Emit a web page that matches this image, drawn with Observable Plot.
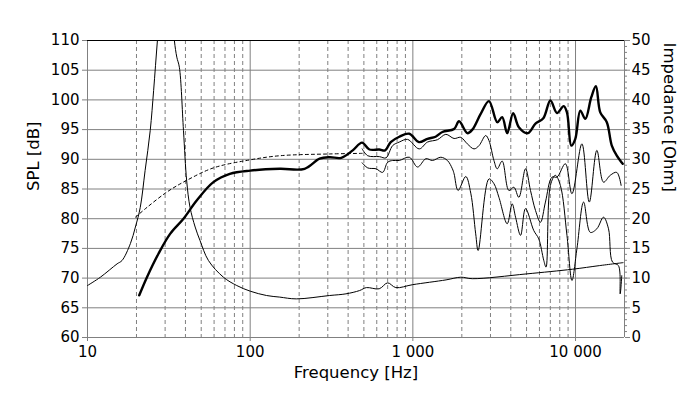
<!DOCTYPE html>
<html><head><meta charset="utf-8">
<script src="https://cdn.jsdelivr.net/npm/d3@7"></script>
<script src="https://cdn.jsdelivr.net/npm/@observablehq/plot@0.6"></script>
<style>html,body{margin:0;padding:0;background:#fff}svg{display:block}</style>
</head><body><div id="chart"></div>
<script>
// Axis ticks
const freqMajor = [10, 100, 1000, 10000];
const freqMinor = [20,30,40,50,60,70,80,90,200,300,400,500,600,700,800,900,2000,3000,4000,5000,6000,7000,8000,9000];
const splTicks = [60, 65, 70, 75, 80, 85, 90, 95, 100, 105, 110];
const ohmTicks = [0, 5, 10, 15, 20, 25, 30, 35, 40, 45, 50];

// On-axis SPL (thick)
const mainFreq = [20.8,23.2,27.3,32.2,38.9,46.9,59.4,75,100,152,216,267,308,363,427,487,541,621,675,731,826,950,1090,1230,1380,1520,1793,1923,2162,2321,2612,2937,3302,3540,3802,4137,4483,5088,5673,6340,7006,7692,8453,8857,9420,9970,10700,11480,12500,13340,14190,15570,16710,17930,18810,19500];
const mainSpl = [67.1,70.15,74.1,77.45,80.0,83.06,86.15,87.55,88.1,88.4,88.4,90.1,90.35,90.25,91.5,92.8,91.65,91.65,91.5,92.9,93.8,94.3,92.9,93.45,93.8,94.6,95.1,96.4,94.4,95.0,97.65,99.8,96.25,97.1,94.4,97.75,95.4,94.4,96.0,96.9,99.9,97.8,98.95,97.9,92.3,93.45,98.2,96.8,100.45,102.3,97.9,96.25,92.3,90.6,89.8,89.25];

// Low-frequency dashed curve
const dashFreq = [19.7,23.2,30.8,40.7,59.4,99.6,152,308,488];
const dashSpl = [80.25,81.9,84.5,86.45,88.55,89.9,90.6,90.9,91.0];

// Off-axis SPL 1 (thin, upper)
const offAFreq = [488,528,623,684,751,825,928,1094,1230,1417,1595,1793,1970,2162,2377,2551,2804,2937,3151,3302,3540,3893,4178,4483,4927,5287,5673,6089,6532,7170,7692,8659,9506,10944,12150,13520,14860,16330,17930,19070];
const offASpl = [91.75,90.6,90.45,90.25,92.3,92.9,93.35,91.75,92.9,93.3,94.2,93.5,93.7,92.6,91.75,92.3,94.0,93.15,89.8,88.4,89.7,84.75,85.3,83.6,88.4,84.75,81.4,79.4,82.8,87.0,87.0,89.25,84.2,92.6,82.8,91.5,86.15,87.3,87.8,85.6];

// Off-axis SPL 2 (thin, lower)
const offBFreq = [488,528,594,652,700,751,825,951,1069,1203,1320,1486,1631,1750,1793,1897,2115,2270,2434,2520,2937,3151,3381,3802,4077,4280,4592,4927,5539,5943,6377,6587,7006,7516,8070,8857,9506,10200,11210,12320,13520,14860,15950,16870,18360,18810,19240];
const offBSpl = [89.4,88.55,88.4,87.8,89.5,89.8,89.8,90.35,88.7,90.1,89.8,90.35,89.8,88.4,87.55,84.75,87.1,84.3,77.45,74.65,86.7,85.9,83.6,79.15,82.5,80.25,77.2,81.7,78.0,76.6,73.0,71.85,85.6,87.3,85.6,77.2,69.6,74.95,82.8,77.7,78.3,80.25,78.3,72.7,72.1,67.35,70.4];

// Impedance (right axis, Ohm)
const impFreq = [10,12.0,15.2,16.3,18.35,19.7,21.1,22.6,24.3,25.5,26.9,28.5,30.5,32.5,34.2,35.4,36.7,38.9,40.7,42.7,45.9,49.2,55.4,68.5,82.7,100,126,152,192,308,388,470,518,621,700,786,1000,1600,1970,2320,4970,9600,14000,19600];
const impOhm = [8.75,10.15,12.4,12.96,15.8,18.6,21.9,28.1,34.85,41.6,50,58,62,58,50,47.2,45.5,34.85,26.4,21.9,18.6,16.3,12.96,10.15,8.75,7.8,7.07,6.8,6.5,7.07,7.35,7.9,8.4,8.2,9.2,8.4,8.9,9.7,10.15,9.9,10.7,11.5,12.1,12.6];

const OHM_OFFSET = 60; // 0 Ohm aligned with 60 dB, same span (50 units)
const toRows = (fs, vs, off = 0) => fs.map((f, i) => ({f, v: vs[i] + off}));
const mainRows = toRows(mainFreq, mainSpl);
const dashRows = toRows(dashFreq, dashSpl);
const offARows = toRows(offAFreq, offASpl);
const offBRows = toRows(offBFreq, offBSpl);
const impRows = toRows(impFreq, impOhm, OHM_OFFSET);

const fmt = d => d3.format(",")(d).replace(/,/g, " ");
const grid = "#808080";
const curve = "catmull-rom";

const chart = Plot.plot({
  width: 700, height: 399,
  marginLeft: 87, marginRight: 76, marginTop: 40, marginBottom: 62,
  style: {fontFamily: "'DejaVu Sans', sans-serif", fontSize: "15px", background: "white", color: "black"},
  x: {type: "log", domain: [10, 20000]},
  y: {domain: [60, 110]},
  marks: [
    Plot.ruleX(freqMinor, {stroke: grid, strokeDasharray: "4,3"}),
    Plot.ruleX(freqMajor.slice(1), {stroke: grid}),
    Plot.ruleY(splTicks.slice(1, -1), {stroke: grid}),
    Plot.ruleX([10, 20000], {stroke: grid}),
    Plot.ruleY([60], {stroke: grid}),
    Plot.ruleY([110], {stroke: "black"}),
    Plot.axisX({ticks: freqMajor, tickFormat: fmt, tickSize: 4, tickPadding: 5, stroke: grid, label: null}),
    Plot.axisY({ticks: splTicks, tickSize: 5, tickPadding: 3, stroke: grid, label: null}),
    Plot.axisY({anchor: "right", ticks: d3.range(60, 111, 1), tickSize: 2, tickFormat: () => "", stroke: grid, label: null}),
    Plot.axisY({anchor: "right", ticks: ohmTicks.map(o => o + OHM_OFFSET), tickFormat: d => d - OHM_OFFSET, tickSize: 5, tickPadding: 2, stroke: grid, label: null}),
    Plot.line(impRows, {x: "f", y: "v", stroke: "black", strokeWidth: 1, curve, clip: true}),
    Plot.line(dashRows, {x: "f", y: "v", stroke: "black", strokeWidth: 1, strokeDasharray: "3,3", curve, clip: true}),
    Plot.line(offBRows, {x: "f", y: "v", stroke: "black", strokeWidth: 1, curve, clip: true}),
    Plot.line(offARows, {x: "f", y: "v", stroke: "black", strokeWidth: 1, curve, clip: true}),
    Plot.line(mainRows, {x: "f", y: "v", stroke: "black", strokeWidth: 2.4, curve, clip: true}),
    Plot.text(["Frequency [Hz]"], {frameAnchor: "bottom", dy: 35.5, fontSize: 16.5, lineAnchor: "middle", fill: "black"}),
    Plot.text(["SPL [dB]"], {frameAnchor: "left", dx: -54, dy: 2, rotate: -90, fontSize: 16.5, lineAnchor: "middle", fill: "black"}),
    Plot.text(["Impedance [Ohm]"], {frameAnchor: "right", dx: 44.5, dy: 3, rotate: 90, fontSize: 16.5, lineAnchor: "middle", fill: "black"})
  ]
});
document.getElementById("chart").appendChild(chart);
</script>
</body></html>
